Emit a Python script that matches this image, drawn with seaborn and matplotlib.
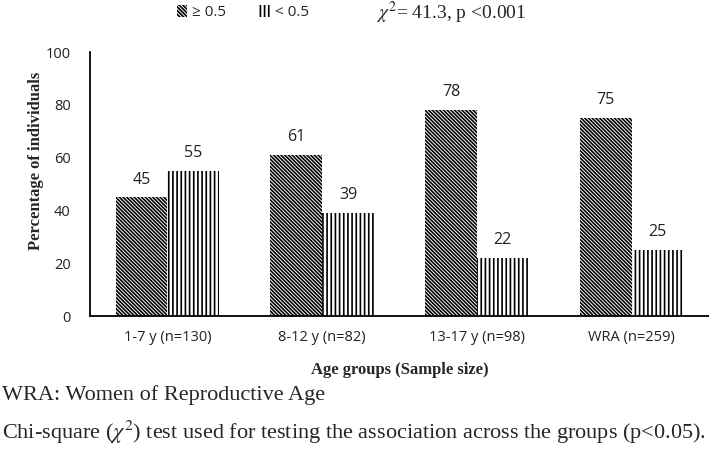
import pandas as pd
import matplotlib
matplotlib.use("Agg")
import matplotlib.pyplot as plt
import matplotlib.patches as mpatches
import seaborn as sns

# data
groups = ["1-7 y (n=130)", "8-12 y (n=82)", "13-17 y (n=98)", "WRA (n=259)"]
high = [45, 61, 78, 75]   # >= 0.5
low = [55, 39, 22, 25]    # < 0.5
series = ["\u2265 0.5", "< 0.5"]
hatches = ["\\" * 9, "|" * 4]

df = pd.DataFrame({
    "group": groups * 2,
    "pct": high + low,
    "series": [series[0]] * 4 + [series[1]] * 4,
})

sns.set_style("white")
plt.rcParams["font.family"] = ["Open Sans", "DejaVu Sans"]
plt.rcParams["mathtext.fontset"] = "stix"
plt.rcParams["hatch.linewidth"] = 1.2
plt.rcParams["hatch.color"] = "black"

fig = plt.figure(figsize=(7.09, 4.53), dpi=100)
ax = fig.add_axes([0.127, 0.302, 0.873, 0.583])

sns.barplot(data=df, x="group", y="pct", hue="series", order=groups,
            hue_order=series, palette=["white", "white"], width=0.67,
            edgecolor="black", linewidth=0, legend=False, ax=ax)

for cont, h in zip(ax.containers, hatches):
    for bar in cont:
        bar.set_hatch(h)
        bar.set_edgecolor("black")
    ax.bar_label(cont, padding=7, fontsize=11.5, color="#222222")

ax.set_ylim(0, 100)
ax.set_xlim(-0.5, 3.5)
ax.set_yticks(range(0, 101, 20))
ax.tick_params(axis="both", length=0, labelsize=10.5, labelcolor="#222222")
ax.tick_params(axis="y", pad=14)
ax.tick_params(axis="x", pad=10)
for s in ["top", "right"]:
    ax.spines[s].set_visible(False)
for s in ["left", "bottom"]:
    ax.spines[s].set_color("black")
    ax.spines[s].set_linewidth(1.3)

serif = {"family": ["Liberation Serif", "DejaVu Serif"]}
ax.set_ylabel("Percentage of individuals", fontweight="bold", fontsize=12,
              **serif)
ax.yaxis.set_label_coords(-0.074, 0.59)
ax.set_xlabel("Age groups (Sample size)", fontweight="bold", fontsize=12,
              labelpad=12, **serif)

handles = [mpatches.Patch(facecolor="white", edgecolor="black", linewidth=0,
                          hatch=h, label=s) for s, h in zip(series, hatches)]
fig.legend(handles=handles, loc="center left", bbox_to_anchor=(0.249, 0.972),
           ncol=2, frameon=False, fontsize=11, handlelength=0.7,
           handleheight=0.8, handletextpad=0.3, columnspacing=2.2,
           borderaxespad=0, borderpad=0)

fig.text(0.531, 0.972, r"$\chi^2$= 41.3, p <0.001", fontsize=14,
         va="center", ha="left", **serif)
fig.text(0.003, 0.128, "WRA: Women of Reproductive Age", fontsize=16,
         va="center", ha="left", **serif)
fig.text(0.003, 0.046,
         r"Chi-square ($\chi^2$) test used for testing the association across the groups (p<0.05).",
         fontsize=16, va="center", ha="left", **serif)

fig.savefig("out.png", dpi=100)
